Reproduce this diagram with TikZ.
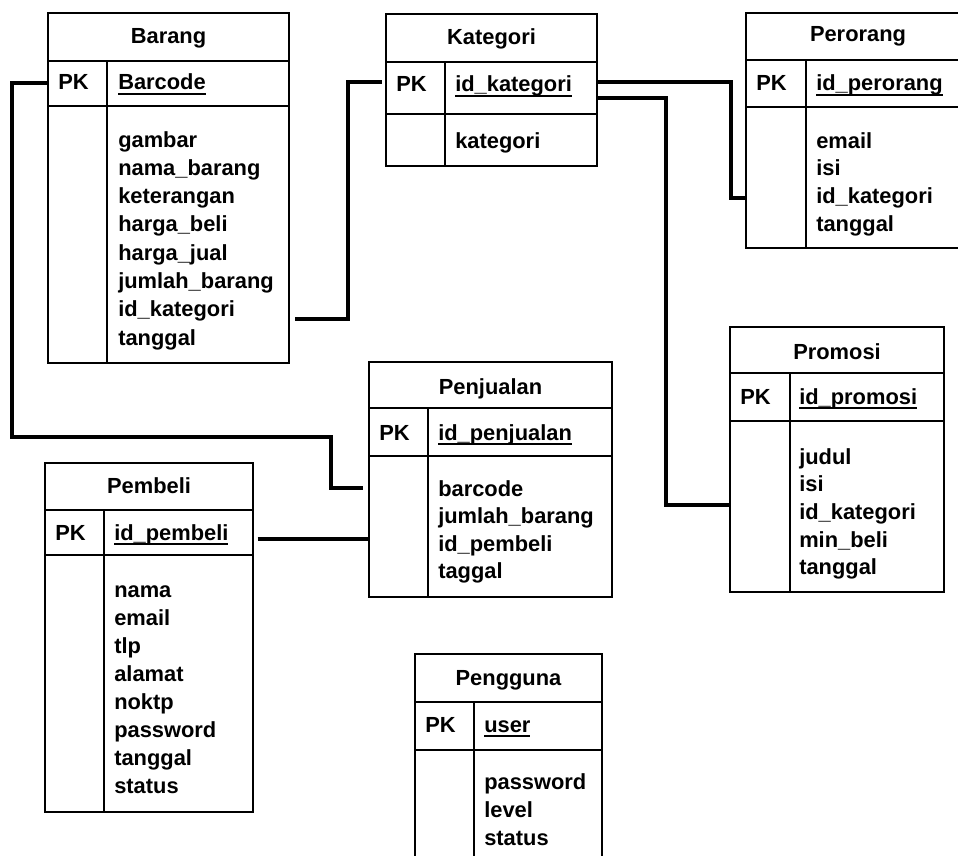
\documentclass[tikz,border=0pt]{standalone}
\usepackage{fontspec}
\setmainfont{Liberation Sans}
\newcommand\erdfont{\fontsize{16.4}{20}\selectfont\bfseries}
% primary key field: text with a thick underline just below the baseline
\newcommand\keyfield[1]{\setbox0\hbox{#1}\rlap{\vrule width\wd0 height -2.2pt depth 3.7pt}\box0}
% table frame: outer box, title and key separators, column separator
\newcommand\erdtable[8]{%
  \node[tbl, minimum width={(#4-#2)*0.75pt}, minimum height={(#5-#3)*0.75pt}] (#1) at (#2,#3) {};
  \draw[rule] (#1.west |- 0,#6) -- (#1.east |- 0,#6);
  \draw[rule] (#1.west |- 0,#7) -- (#1.east |- 0,#7);
  \draw[rule] (#8,#6) -- (#8,#5);
}
\tikzset{
  tbl/.style={draw, line width=1.7pt, inner sep=0pt, outer sep=0pt, anchor=north west},
  rule/.style={line width=1.7pt},
  txt/.style={inner sep=0pt, anchor=base west, font=\erdfont},
  ttl/.style={inner sep=0pt, anchor=base, font=\erdfont},
  link/.style={line width=2.3pt, line join=miter},
}
\begin{document}
\begin{tikzpicture}[x=0.75pt, y=-0.75pt]
\useasboundingbox (0,0) rectangle (958,856);
\clip (0,0) rectangle (958,856);

% ---------- Barang ----------
\erdtable{barang}{48}{13}{289}{363}{61}{106}{107}
\node[ttl] (barang-title) at (168.5,44) {Barang};
\node[txt] (barang-pk) at (58,90) {PK};
\node[txt] (barang-key) at (118,90) {\keyfield{Barcode}};
\foreach \t [count=\i] in {gambar,nama\_barang,keterangan,harga\_beli,harga\_jual,jumlah\_barang,id\_kategori,tanggal}
  \node[txt] (barang-a\i) at (118,{147+28.3*(\i-1)}) {\t};

% ---------- Kategori ----------
\erdtable{kategori}{386}{14}{597}{166}{62}{114}{445}
\node[ttl] (kategori-title) at (491.5,45) {Kategori};
\node[txt] (kategori-pk) at (396,92) {PK};
\node[txt] (kategori-key) at (455,92) {\keyfield{id\_kategori}};
\node[txt] (kategori-a1) at (455,149) {kategori};

% ---------- Perorang ----------
\erdtable{perorang}{746}{13}{975}{248}{60}{107}{806}
\node[ttl] (perorang-title) at (858,42) {Perorang};
\node[txt] (perorang-pk) at (756,91) {PK};
\node[txt] (perorang-key) at (816,91) {\keyfield{id\_perorang}};
\foreach \t [count=\i] in {email,isi,id\_kategori,tanggal}
  \node[txt] (perorang-a\i) at (816,{148+27.7*(\i-1)}) {\t};

% ---------- Promosi ----------
\erdtable{promosi}{730}{327}{944}{592}{373}{421}{790}
\node[ttl] (promosi-title) at (837,359) {Promosi};
\node[txt] (promosi-pk) at (740,404) {PK};
\node[txt] (promosi-key) at (799,404) {\keyfield{id\_promosi}};
\foreach \t [count=\i] in {judul,isi,id\_kategori,min\_beli,tanggal}
  \node[txt] (promosi-a\i) at (799,{464+27.7*(\i-1)}) {\t};

% ---------- Penjualan ----------
\erdtable{penjualan}{369}{362}{612}{597}{408}{456}{428}
\node[ttl] (penjualan-title) at (490.5,394) {Penjualan};
\node[txt] (penjualan-pk) at (379,440) {PK};
\node[txt] (penjualan-key) at (438,440) {\keyfield{id\_penjualan}};
\foreach \t [count=\i] in {barcode,jumlah\_barang,id\_pembeli,taggal}
  \node[txt] (penjualan-a\i) at (438,{496+27.5*(\i-1)}) {\t};

% ---------- Pembeli ----------
\erdtable{pembeli}{45}{463}{253}{812}{510}{555}{104}
\node[ttl] (pembeli-title) at (149,493) {Pembeli};
\node[txt] (pembeli-pk) at (55,540) {PK};
\node[txt] (pembeli-key) at (114,540) {\keyfield{id\_pembeli}};
\foreach \t [count=\i] in {nama,email,tlp,alamat,noktp,password,tanggal,status}
  \node[txt] (pembeli-a\i) at (114,{597+28.1*(\i-1)}) {\t};

% ---------- Pengguna ----------
\erdtable{pengguna}{415}{654}{602}{880}{702}{750}{474}
\node[ttl] (pengguna-title) at (508.5,685) {Pengguna};
\node[txt] (pengguna-pk) at (425,732) {PK};
\node[txt] (pengguna-key) at (484,732) {\keyfield{user}};
\foreach \t [count=\i] in {password,level,status}
  \node[txt] (pengguna-a\i) at (484,{789+28*(\i-1)}) {\t};

% ---------- relationships ----------
\draw[link] (barang.west |- 0,83) -- (12,83) -- (12,437) -- (331,437) -- (331,488)
  -- ([xshift=-4.5pt]penjualan.west |- 0,488);
\draw[link] ([xshift=4.5pt]barang.east |- 0,319) -- (348,319) -- (348,82)
  -- ([xshift=-3pt]kategori.west |- 0,82);
\draw[link] (kategori.east |- 0,82) -- (731,82) -- (731,198) -- (perorang.west |- 0,198);
\draw[link] (kategori.east |- 0,98) -- (666,98) -- (666,505) -- (promosi.west |- 0,505);
\draw[link] ([xshift=3.5pt]pembeli.east |- 0,539) -- (penjualan.west |- 0,539);
\end{tikzpicture}
\end{document}
